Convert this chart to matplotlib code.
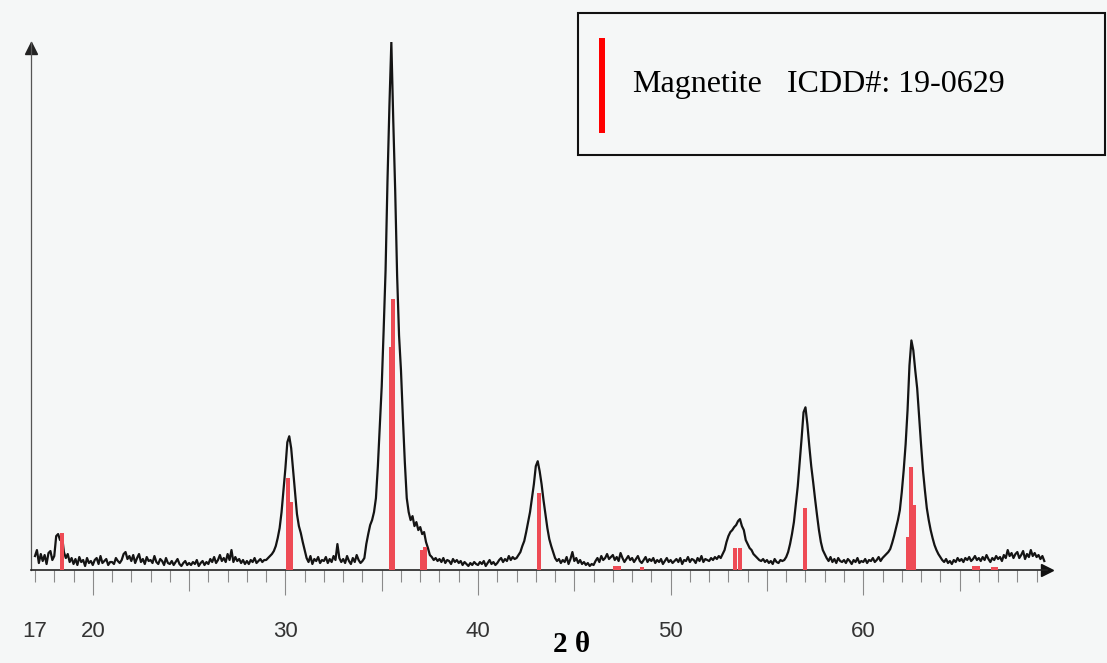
import matplotlib
matplotlib.use('Agg')
import matplotlib.pyplot as plt
import matplotlib.transforms as mtransforms
import numpy as np
from matplotlib.patches import Rectangle

# measured pattern, one row per degree, step 0.1 deg starting at 17.0 (a.u.)
intensity = [
    14, 20, 7, 16, 9, 15, 6, 17, 19, 10,            # 17
    14, 34, 36, 30, 35, 18, 12, 16, 8, 12,          # 18
    6, 11, 5, 13, 8, 10, 4, 12, 7, 9,               # 19
    5, 10, 12, 6, 14, 7, 9, 11, 5, 8,               # 20
    8, 6, 12, 9, 7, 10, 16, 18, 11, 14,             # 21
    9, 15, 7, 12, 16, 8, 11, 6, 13, 9,              # 22
    10, 7, 14, 8, 6, 11, 9, 5, 12, 7,               # 23
    6, 9, 5, 8, 11, 6, 4, 7, 9, 5,                  # 24
    7, 5, 8, 6, 10, 4, 7, 9, 5, 8,                  # 25
    6, 11, 8, 13, 7, 10, 15, 9, 12, 8,              # 26
    16, 10, 20, 8, 13, 9, 11, 7, 10, 6,             # 27
    9, 6, 10, 8, 12, 7, 9, 11, 8, 10,               # 28
    10, 12, 14, 16, 19, 24, 32, 42, 58, 80,         # 29
    102, 128, 134, 122, 100, 78, 56, 44, 37, 28,    # 30
    20, 12, 8, 14, 6, 11, 9, 13, 7, 10,             # 31
    9, 13, 7, 11, 8, 14, 10, 26, 12, 8,             # 32
    11, 7, 14, 9, 6, 12, 8, 15, 10, 7,              # 33
    9, 12, 26, 36, 45, 50, 58, 72, 104, 145,        # 34
    184, 240, 300, 390, 465, 529, 450, 380, 295, 235,  # 35
    200, 152, 108, 72, 58, 50, 54, 44, 48, 40,      # 36
    43, 36, 38, 28, 22, 15, 13, 10, 12, 9,          # 37
    11, 8, 12, 7, 10, 9, 6, 11, 8, 10,              # 38
    7, 9, 5, 8, 6, 4, 7, 5, 8, 6,                   # 39
    5, 8, 6, 9, 4, 7, 10, 6, 8, 5,                  # 40
    7, 10, 12, 8, 11, 9, 14, 10, 13, 11,            # 41
    12, 15, 18, 24, 29, 38, 48, 58, 72, 86,         # 42
    104, 109, 99, 86, 70, 56, 42, 31, 24, 18,       # 43
    12, 9, 11, 7, 10, 8, 13, 6, 11, 18,             # 44
    9, 12, 7, 10, 6, 8, 5, 7, 4, 6,                 # 45
    5, 9, 12, 8, 14, 10, 12, 16, 11, 13,            # 46
    15, 10, 13, 9, 17, 12, 8, 11, 14, 10,           # 47
    12, 8, 11, 14, 9, 7, 10, 13, 8, 11,             # 48
    9, 12, 7, 10, 8, 11, 6, 9, 12, 8,               # 49
    10, 7, 9, 11, 8, 12, 6, 10, 9, 13,              # 50
    8, 11, 10, 7, 12, 9, 14, 8, 11, 10,             # 51
    9, 12, 10, 13, 11, 14, 12, 16, 20, 28,          # 52
    34, 38, 40, 43, 45, 49, 51, 44, 40, 30,         # 53
    26, 22, 20, 16, 14, 12, 10, 9, 11, 8,           # 54
    10, 7, 9, 6, 11, 8, 7, 10, 9, 10,               # 55
    13, 18, 26, 36, 48, 66, 84, 108, 132, 158,      # 56
    163, 146, 124, 104, 88, 71, 55, 40, 28, 20,     # 57
    16, 12, 9, 13, 8, 11, 7, 12, 9, 8,              # 58
    10, 7, 11, 9, 6, 10, 8, 12, 7, 9,               # 59
    8, 11, 7, 10, 9, 12, 8, 10, 13, 9,              # 60
    12, 14, 16, 18, 21, 27, 34, 42, 50, 60,         # 61
    78, 100, 126, 160, 205, 230, 220, 200, 182, 154,  # 62
    126, 100, 80, 62, 50, 40, 32, 25, 20, 16,       # 63
    13, 10, 8, 11, 7, 9, 6, 10, 8, 12,              # 64
    9, 11, 8, 12, 10, 13, 9, 11, 14, 10,            # 65
    12, 9, 13, 10, 15, 11, 8, 12, 10, 14,           # 66
    11, 13, 9, 15, 12, 20, 14, 17, 12, 16,          # 67
    18, 12, 15, 19, 11, 16, 13, 20, 14, 17,         # 68
    13, 15, 11, 14, 9,                              # 69
]
two_theta = np.round(17.0 + 0.1 * np.arange(len(intensity)), 1)

# reference lines, magnetite ICDD 19-0629 (as drawn)
icdd_pos = [18.38, 30.14, 30.29, 35.46, 35.61, 37.09, 37.25, 43.17, 47.1, 47.3,
            48.5, 53.32, 53.6, 57.0, 62.33, 62.48, 62.64, 65.75, 65.95, 66.75, 66.9]
icdd_int = [37, 92, 68, 223, 272, 20, 23, 77, 4, 4,
            3, 22, 22, 62, 33, 103, 65, 4, 4, 3, 3]

major_ticks = [17, 20, 30, 40, 50, 60]
tick_labels = ['17', '20', '30', '40', '50', '60']

W, H = 1107, 663
bg = '#f5f7f7'
fig = plt.figure(figsize=(W / 100, H / 100), dpi=100, facecolor=bg)
ax = fig.add_axes([31 / W, 93 / H, 1016 / W, 528 / H], facecolor=bg)

ax.bar(icdd_pos, icdd_int, width=0.21, color='#ee4b55', linewidth=0, zorder=3)
ax.plot(two_theta, intensity, color='#141414', lw=1.6, zorder=2)

ax.set_xlim(16.792, 69.54)
ax.set_ylim(0, 529)

for s in ['top', 'right']:
    ax.spines[s].set_visible(False)
ax.spines['left'].set_color('#555555')
ax.spines['left'].set_linewidth(0.9)
ax.spines['bottom'].set_color('#222222')
ax.spines['bottom'].set_linewidth(1.2)
up = mtransforms.offset_copy(ax.transAxes, fig=fig, x=0, y=-6, units='dots')
ax.plot(0, 1, '^', color='#222222', ms=8.5, transform=up, clip_on=False)
ax.plot(1, 0, '>', color='#111111', ms=8.5, transform=ax.transAxes, clip_on=False)

ax.set_yticks([])
ax.set_xticks(major_ticks)
ax.set_xticklabels(tick_labels, fontsize=16, color='#333333', family='Liberation Sans')
ax.set_xticks([i for i in range(18, 70) if i % 10], minor=True)
ax.tick_params(axis='x', which='major', length=18, width=0.8, color='#8a8a8a', pad=19)
ax.tick_params(axis='x', which='minor', length=8.6, width=0.8, color='#8a8a8a')
ax.xaxis.get_major_ticks()[0].tick1line.set_markersize(8.6)
for t, loc in zip(ax.xaxis.get_minor_ticks(), ax.xaxis.get_minorticklocs()):
    if loc % 5 == 0:
        t.tick1line.set_markersize(15)

fig.text(572 / W, (H - 652) / H, '2 \u03b8', ha='center', va='baseline',
         fontsize=21, fontweight='bold', family='Liberation Serif')

# legend box
fig.patches.append(Rectangle((578 / W, (H - 155) / H), 527 / W, 142 / H,
                             transform=fig.transFigure, fill=False,
                             edgecolor='#111111', linewidth=1.5))
fig.patches.append(Rectangle((599 / W, (H - 133) / H), 6 / W, 95 / H,
                             transform=fig.transFigure, color='#ff0000', lw=0))
fig.text(632 / W, (H - 92) / H, 'Magnetite', fontsize=23,
         family='Liberation Serif', va='baseline')
fig.text(787 / W, (H - 92) / H, 'ICDD#: 19-0629', fontsize=23,
         family='Liberation Serif', va='baseline')

fig.savefig('out.png', dpi=100, facecolor=bg)
